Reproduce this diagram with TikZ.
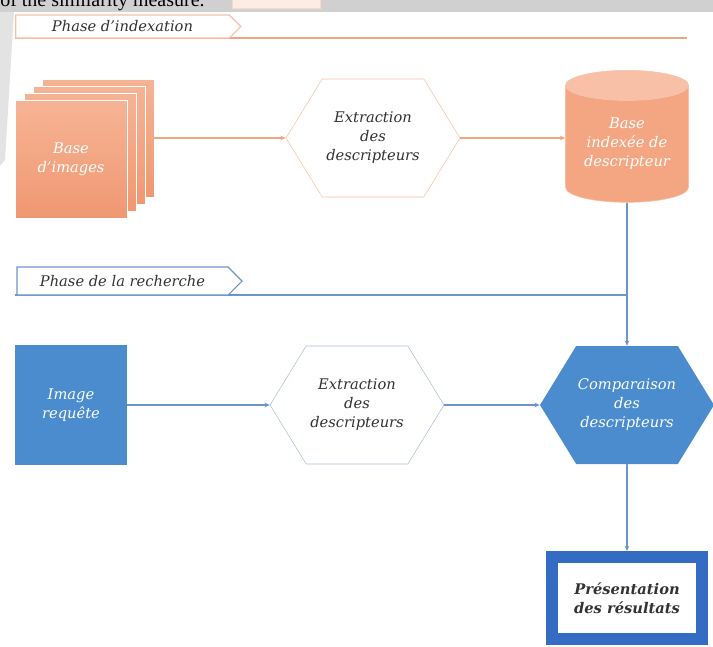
\documentclass[tikz,border=0pt]{standalone}
\usepackage{fontspec}
\setmainfont{DejaVu Serif}
\newfontfamily\topfont{Liberation Serif}
\usepackage{tikz}
\usetikzlibrary{shapes.geometric, shapes.symbols, arrows.meta, positioning, shadows}
\definecolor{OR}{RGB}{244, 166, 130}
\definecolor{ORd}{RGB}{240, 152, 114}
\definecolor{ORl}{RGB}{248, 192, 166}
\definecolor{ORline}{RGB}{236, 166, 132}
\definecolor{BL}{RGB}{74, 140, 206}
\definecolor{BLd}{RGB}{52, 108, 196}
\definecolor{BLline}{RGB}{108, 150, 200}
\definecolor{BLpale}{RGB}{168, 190, 218}
\definecolor{GR}{RGB}{208, 208, 208}
\definecolor{TX}{RGB}{50, 50, 50}
\newcommand{\boxfont}{\fontsize{11}{14.25}\selectfont\itshape}
\tikzset{
    hexa/.style={signal, signal to=east and west, signal pointer angle=117, minimum width=130.5pt, minimum height=88.5pt, inner sep=0pt, align=center, font=\boxfont},
    page/.style={rectangle, minimum width=84pt, minimum height=88.5pt, inner sep=0pt, draw=white, line width=0.6pt, top color=OR!85!white, bottom color=ORd, align=center, font=\boxfont},
    tag/.style={signal, signal to=east, signal pointer angle=90, minimum width=168.75pt, inner sep=0pt, fill=white, line width=0.8pt, text=TX, font=\boxfont},
    arrowO/.style={draw=ORline, line width=0.8pt, -{Stealth[length=4pt, width=3.5pt]}},
    arrowB/.style={draw=BLline, line width=0.8pt, -{Stealth[length=4pt, width=3.5pt]}},
}

\begin{document}
\begin{tikzpicture}[x=0.75pt, y=-0.75pt]
\useasboundingbox (0,0) rectangle (713,646);
\clip (0,0) rectangle (713,646);

% bandeau du haut (page coupee)
\fill[GR] (0,0) rectangle (713,12);
\fill[GR!60] (0,12) -- (14,12) -- (5,160) -- (0,166) -- cycle;
\begin{scope}
  \clip (0,0) rectangle (713,12);
  \fill[ORl!30, draw=ORl!60] (232,-2) rectangle (320,8);
  \node[anchor=base west, inner sep=0pt, font=\topfont\fontsize{15}{17}\selectfont] (top) at (0,7) {of the similarity measure.};
\end{scope}

% phase d'indexation
\draw[ORline, line width=1.2pt] (15,38) -- (687,38);
\node[tag, draw=ORl, minimum height=17.25pt] (ph1) at (122.5,26.5) {Phase d'indexation};

\foreach \k in {3,2,1}
  \node[page] (img\k) at ({71+9*\k},{159-7*\k}) {};
\node[page, text=white] (img0) at (71,159) {Base\\d'images};

\node[hexa, draw=ORl, fill=white, text=TX] (ext1) at (373,138) {Extraction\\des\\descripteurs};

\node[cylinder, shape border rotate=90, aspect=0.35, minimum width=92.25pt, minimum height=99pt,
      cylinder uses custom fill, cylinder body fill=OR, cylinder end fill=ORl, draw=ORl,
      text=white, align=center, font=\boxfont, inner sep=0pt] (bdd) at (627,144) {Base\\indexée de\\descripteur};

\draw[arrowO] (img3.east) -- (ext1.west);
\draw[arrowO] (ext1.east) -- (ext1.east -| bdd.west);

% phase de la recherche
\draw[BLline, line width=1.2pt] (15,295) -- (627,295);
\node[tag, draw=BLline, minimum height=21pt] (ph2) at (122.5,281) {Phase de la recherche};

\node[rectangle, minimum width=84pt, minimum height=90pt, inner sep=0pt, fill=BL, text=white,
      align=center, font=\boxfont] (req) at (71,405) {Image\\requête};
\node[hexa, draw=BLpale, fill=white, text=TX] (ext2) at (357,405) {Extraction\\des\\descripteurs};
\node[hexa, fill=BL, text=white] (comp) at (627,405) {Comparaison\\des\\descripteurs};
\node[rectangle, minimum width=112.5pt, minimum height=61.5pt, draw=BLd, line width=9pt, fill=white,
      drop shadow={shadow xshift=2pt, shadow yshift=-2pt, opacity=0.3}, text=TX, align=center,
      font=\boxfont\bfseries] (res) at (627,598) {Présentation\\des résultats};

\draw[arrowB] (bdd.south) -- (comp.north);
\draw[arrowB] (req.east) -- (ext2.west);
\draw[arrowB] (ext2.east) -- (comp.west);
\draw[arrowB] (comp.south) -- (res.north);

\end{tikzpicture}
\end{document}
